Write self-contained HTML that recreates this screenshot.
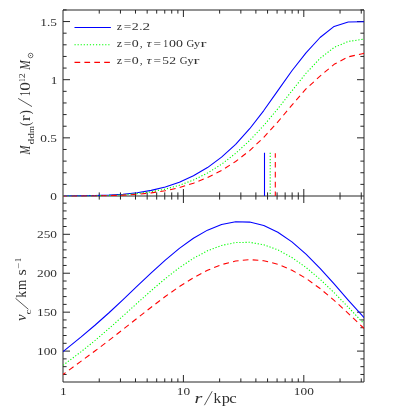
<!DOCTYPE html><html><head><meta charset="utf-8"><style>html,body{margin:0;padding:0;background:#fff;width:407px;height:407px;overflow:hidden;font-family:"Liberation Serif",serif}</style></head><body><svg width="407" height="407" viewBox="0 0 407 407" style="position:absolute;left:0;top:0;will-change:transform">
<rect width="407" height="407" fill="#fff"/>
<path d="M99.24 10.00 L99.24 13.60 M99.24 192.40 L99.24 199.60 M99.24 382.00 L99.24 378.40 M120.45 10.00 L120.45 13.60 M120.45 192.40 L120.45 199.60 M120.45 382.00 L120.45 378.40 M135.49 10.00 L135.49 13.60 M135.49 192.40 L135.49 199.60 M135.49 382.00 L135.49 378.40 M147.16 10.00 L147.16 13.60 M147.16 192.40 L147.16 199.60 M147.16 382.00 L147.16 378.40 M156.69 10.00 L156.69 13.60 M156.69 192.40 L156.69 199.60 M156.69 382.00 L156.69 378.40 M164.75 10.00 L164.75 13.60 M164.75 192.40 L164.75 199.60 M164.75 382.00 L164.75 378.40 M171.73 10.00 L171.73 13.60 M171.73 192.40 L171.73 199.60 M171.73 382.00 L171.73 378.40 M177.89 10.00 L177.89 13.60 M177.89 192.40 L177.89 199.60 M177.89 382.00 L177.89 378.40 M183.40 10.00 L183.40 17.00 M183.40 189.00 L183.40 203.00 M183.40 382.00 L183.40 375.00 M219.64 10.00 L219.64 13.60 M219.64 192.40 L219.64 199.60 M219.64 382.00 L219.64 378.40 M240.85 10.00 L240.85 13.60 M240.85 192.40 L240.85 199.60 M240.85 382.00 L240.85 378.40 M255.89 10.00 L255.89 13.60 M255.89 192.40 L255.89 199.60 M255.89 382.00 L255.89 378.40 M267.56 10.00 L267.56 13.60 M267.56 192.40 L267.56 199.60 M267.56 382.00 L267.56 378.40 M277.09 10.00 L277.09 13.60 M277.09 192.40 L277.09 199.60 M277.09 382.00 L277.09 378.40 M285.15 10.00 L285.15 13.60 M285.15 192.40 L285.15 199.60 M285.15 382.00 L285.15 378.40 M292.13 10.00 L292.13 13.60 M292.13 192.40 L292.13 199.60 M292.13 382.00 L292.13 378.40 M298.29 10.00 L298.29 13.60 M298.29 192.40 L298.29 199.60 M298.29 382.00 L298.29 378.40 M303.80 10.00 L303.80 17.00 M303.80 189.00 L303.80 203.00 M303.80 382.00 L303.80 375.00 M340.04 10.00 L340.04 13.60 M340.04 192.40 L340.04 199.60 M340.04 382.00 L340.04 378.40 M361.25 10.00 L361.25 13.60 M361.25 192.40 L361.25 199.60 M361.25 382.00 L361.25 378.40 M63.00 184.37 L66.60 184.37 M364.00 184.37 L360.40 184.37 M63.00 172.74 L66.60 172.74 M364.00 172.74 L360.40 172.74 M63.00 161.11 L66.60 161.11 M364.00 161.11 L360.40 161.11 M63.00 149.48 L66.60 149.48 M364.00 149.48 L360.40 149.48 M63.00 137.85 L70.00 137.85 M364.00 137.85 L357.00 137.85 M63.00 126.22 L66.60 126.22 M364.00 126.22 L360.40 126.22 M63.00 114.59 L66.60 114.59 M364.00 114.59 L360.40 114.59 M63.00 102.96 L66.60 102.96 M364.00 102.96 L360.40 102.96 M63.00 91.33 L66.60 91.33 M364.00 91.33 L360.40 91.33 M63.00 79.70 L70.00 79.70 M364.00 79.70 L357.00 79.70 M63.00 68.07 L66.60 68.07 M364.00 68.07 L360.40 68.07 M63.00 56.44 L66.60 56.44 M364.00 56.44 L360.40 56.44 M63.00 44.81 L66.60 44.81 M364.00 44.81 L360.40 44.81 M63.00 33.18 L66.60 33.18 M364.00 33.18 L360.40 33.18 M63.00 21.55 L70.00 21.55 M364.00 21.55 L357.00 21.55 M63.00 9.92 L66.60 9.92 M364.00 9.92 L360.40 9.92 M63.00 374.46 L66.60 374.46 M364.00 374.46 L360.40 374.46 M63.00 366.67 L66.60 366.67 M364.00 366.67 L360.40 366.67 M63.00 358.89 L66.60 358.89 M364.00 358.89 L360.40 358.89 M63.00 351.10 L70.00 351.10 M364.00 351.10 L357.00 351.10 M63.00 343.31 L66.60 343.31 M364.00 343.31 L360.40 343.31 M63.00 335.53 L66.60 335.53 M364.00 335.53 L360.40 335.53 M63.00 327.74 L66.60 327.74 M364.00 327.74 L360.40 327.74 M63.00 319.95 L66.60 319.95 M364.00 319.95 L360.40 319.95 M63.00 312.17 L70.00 312.17 M364.00 312.17 L357.00 312.17 M63.00 304.38 L66.60 304.38 M364.00 304.38 L360.40 304.38 M63.00 296.59 L66.60 296.59 M364.00 296.59 L360.40 296.59 M63.00 288.80 L66.60 288.80 M364.00 288.80 L360.40 288.80 M63.00 281.02 L66.60 281.02 M364.00 281.02 L360.40 281.02 M63.00 273.23 L70.00 273.23 M364.00 273.23 L357.00 273.23 M63.00 265.44 L66.60 265.44 M364.00 265.44 L360.40 265.44 M63.00 257.66 L66.60 257.66 M364.00 257.66 L360.40 257.66 M63.00 249.87 L66.60 249.87 M364.00 249.87 L360.40 249.87 M63.00 242.08 L66.60 242.08 M364.00 242.08 L360.40 242.08 M63.00 234.30 L70.00 234.30 M364.00 234.30 L357.00 234.30 M63.00 226.51 L66.60 226.51 M364.00 226.51 L360.40 226.51 M63.00 218.72 L66.60 218.72 M364.00 218.72 L360.40 218.72 M63.00 210.93 L66.60 210.93 M364.00 210.93 L360.40 210.93 M63.00 203.15 L66.60 203.15 M364.00 203.15 L360.40 203.15" stroke="#262626" stroke-width="1.00" fill="none"/>
<path d="M63.00 10.00H364.00V382.00H63.00Z M63.00 196.00H364.00" stroke="#262626" stroke-width="1.00" fill="none"/>
<clipPath id="c1"><rect x="63.00" y="10.00" width="301.00" height="186.60"/></clipPath>
<clipPath id="c2"><rect x="63.00" y="196.00" width="301.00" height="186.00"/></clipPath>
<g clip-path="url(#c1)" fill="none" stroke-linejoin="round" stroke-width="1.08">
<path d="M63.00 196.06 L80.87 195.88 L94.94 195.59 L109.01 195.08 L123.08 194.18 L137.15 192.71 L151.22 190.39 L165.29 186.97 L179.36 182.19 L193.43 175.80 L207.50 167.56 L221.57 157.18 L235.64 144.30 L249.71 128.72 L263.78 110.56 L277.85 90.68 L291.92 70.78 L305.99 52.85 L320.06 37.49 L334.13 26.41 L348.20 21.95 L362.27 21.82 L364.00 21.80" stroke="#0000ff"/>
<path d="M63.00 196.16 L80.87 196.03 L94.94 195.81 L109.01 195.41 L123.08 194.72 L137.15 193.59 L151.22 191.81 L165.29 189.14 L179.36 185.30 L193.43 180.03 L207.50 173.07 L221.57 164.23 L235.64 153.37 L249.71 140.43 L263.78 125.46 L277.85 108.72 L291.92 90.85 L305.99 73.26 L320.06 58.39 L334.13 47.41 L348.20 41.45 L362.27 39.40 L364.00 39.15" stroke="#00ff00" stroke-dasharray="1.2 1.87"/>
<path d="M63.00 196.26 L80.87 196.11 L94.94 195.93 L109.01 195.63 L123.08 195.13 L137.15 194.28 L151.22 192.89 L165.29 190.72 L179.36 187.57 L193.43 183.23 L207.50 177.56 L221.57 170.40 L235.64 161.51 L249.71 150.58 L263.78 137.34 L277.85 121.89 L291.92 105.12 L305.99 88.93 L320.06 76.11 L334.13 64.31 L348.20 56.85 L362.27 53.70 L364.00 53.35" stroke="#ff0000" stroke-dasharray="5.7 4.2" stroke-dashoffset="1.5"/>
<path d="M264.5 152.8V196" stroke="#0000ff"/>
<path d="M270.2 152.8V196" stroke="#00ff00" stroke-dasharray="1.2 1.87"/>
<path d="M275.3 153.2V196" stroke="#ff0000" stroke-dasharray="5.7 4.2" stroke-dashoffset="1.2"/>
</g>
<g clip-path="url(#c2)" fill="none" stroke-linejoin="round" stroke-width="1.08">
<path d="M63.00 351.57 L80.87 337.16 L94.94 325.27 L109.01 312.74 L123.08 299.64 L137.15 286.23 L151.22 272.89 L165.29 260.11 L179.36 248.38 L193.43 238.23 L207.50 230.14 L221.57 224.54 L235.64 221.79 L249.71 222.10 L263.78 225.60 L277.85 232.25 L291.92 241.86 L305.99 254.06 L320.06 268.34 L334.13 283.98 L348.20 300.13 L362.27 315.72 L364.00 317.54" stroke="#0000ff"/>
<path d="M63.00 365.32 L80.87 351.92 L94.94 340.56 L109.01 328.51 L123.08 315.94 L137.15 303.18 L151.22 290.60 L165.29 278.63 L179.36 267.72 L193.43 258.30 L207.50 250.76 L221.57 245.43 L235.64 242.56 L249.71 242.31 L263.78 244.76 L277.85 249.88 L291.92 257.52 L305.99 267.44 L320.06 279.30 L334.13 292.69 L348.20 307.10 L362.27 321.99 L364.00 323.82" stroke="#00ff00" stroke-dasharray="1.2 1.87"/>
<path d="M63.00 374.51 L80.87 361.39 L94.94 351.00 L109.01 340.34 L123.08 329.38 L137.15 318.26 L151.22 307.21 L165.29 296.53 L179.36 286.57 L193.43 277.69 L207.50 270.26 L221.57 264.60 L235.64 260.98 L249.71 259.64 L263.78 260.71 L277.85 264.24 L291.92 270.17 L305.99 278.36 L320.06 288.54 L334.13 300.34 L348.20 313.28 L362.27 326.76 L364.00 328.42" stroke="#ff0000" stroke-dasharray="5.7 4.2" stroke-dashoffset="2.5"/>
</g>
<g fill="none" stroke-linejoin="round" stroke-width="1.08">
<path d="M74.5 27.5H110.9" stroke="#0000ff"/>
<path d="M74.5 44.7H110.9" stroke="#00ff00" stroke-dasharray="1.2 1.87"/>
<path d="M74.5 62.4H110.9" stroke="#ff0000" stroke-dasharray="5.7 4.2"/>
</g>
<g font-family="'Liberation Serif', serif" fill="#303030">
<text transform="translate(40.36 25.55) scale(1.190 1)" font-size="11.20px" letter-spacing="0.00">1.5</text>
<text transform="translate(50.64 83.70) scale(1.190 1)" font-size="11.20px" letter-spacing="0.00">1</text>
<text transform="translate(40.36 141.85) scale(1.190 1)" font-size="11.20px" letter-spacing="0.00">0.5</text>
<text transform="translate(50.34 200.00) scale(1.190 1)" font-size="11.20px" letter-spacing="0.00">0</text>
<text transform="translate(37.02 238.30) scale(1.190 1)" font-size="11.20px" letter-spacing="0.00">250</text>
<text transform="translate(37.02 277.23) scale(1.190 1)" font-size="11.20px" letter-spacing="0.00">200</text>
<text transform="translate(37.02 316.17) scale(1.190 1)" font-size="11.20px" letter-spacing="0.00">150</text>
<text transform="translate(37.02 355.10) scale(1.190 1)" font-size="11.20px" letter-spacing="0.00">100</text>
<text transform="translate(60.08 395.20) scale(1.190 1)" font-size="11.20px" letter-spacing="0.00">1</text>
<text transform="translate(176.80 395.20) scale(1.190 1)" font-size="11.20px" letter-spacing="0.00">10</text>
<text transform="translate(293.87 395.20) scale(1.190 1)" font-size="11.20px" letter-spacing="0.00">100</text>
<text transform="translate(116.78 30.30) scale(1.078 1)" font-size="11.20px">z</text>
<text transform="translate(123.74 30.30) scale(1.190 1)" font-size="11.20px">=</text>
<text transform="translate(131.79 30.30) scale(1.247 1)" font-size="11.20px">2</text>
<text transform="translate(139.57 30.30) scale(0.982 1)" font-size="11.20px">.</text>
<text transform="translate(142.53 30.30) scale(1.359 1)" font-size="11.20px">2</text>
<text transform="translate(116.78 46.80) scale(1.078 1)" font-size="11.20px">z</text>
<text transform="translate(123.74 46.80) scale(1.190 1)" font-size="11.20px">=</text>
<text transform="translate(131.87 46.80) scale(1.243 1)" font-size="11.20px">0</text>
<text transform="translate(139.77 46.80) scale(1.019 1)" font-size="11.20px">,</text>
<text transform="translate(146.59 46.80) scale(1.243 1)" font-size="11.20px" font-style="italic">τ</text>
<text transform="translate(153.54 46.80) scale(1.190 1)" font-size="11.20px">=</text>
<text transform="translate(163.15 46.80) scale(0.862 1)" font-size="11.20px">1</text>
<text transform="translate(168.97 46.80) scale(1.243 1)" font-size="11.20px">0</text>
<text transform="translate(175.97 46.80) scale(1.243 1)" font-size="11.20px">0</text>
<text transform="translate(186.46 46.80) scale(0.962 1)" font-size="11.20px">G</text>
<text transform="translate(194.05 46.80) scale(1.089 1)" font-size="11.20px">y</text>
<text transform="translate(200.54 46.80) scale(1.600 1)" font-size="11.20px">r</text>
<text transform="translate(116.78 63.60) scale(1.078 1)" font-size="11.20px">z</text>
<text transform="translate(123.74 63.60) scale(1.190 1)" font-size="11.20px">=</text>
<text transform="translate(131.87 63.60) scale(1.243 1)" font-size="11.20px">0</text>
<text transform="translate(139.77 63.60) scale(1.019 1)" font-size="11.20px">,</text>
<text transform="translate(146.59 63.60) scale(1.243 1)" font-size="11.20px" font-style="italic">τ</text>
<text transform="translate(153.54 63.60) scale(1.190 1)" font-size="11.20px">=</text>
<text transform="translate(162.22 63.60) scale(1.197 1)" font-size="11.20px">5</text>
<text transform="translate(169.30 63.60) scale(1.225 1)" font-size="11.20px">2</text>
<text transform="translate(179.76 63.60) scale(0.962 1)" font-size="11.20px">G</text>
<text transform="translate(187.45 63.60) scale(1.089 1)" font-size="11.20px">y</text>
<text transform="translate(193.54 63.60) scale(1.600 1)" font-size="11.20px">r</text>
<text transform="translate(194.48 402.80) scale(1.443 1)" font-size="14.00px" font-style="italic">r</text>
<path d="M204.4 405.2L212.2 391.2" stroke="#303030" stroke-width="0.8" fill="none"/>
<text transform="translate(213.41 402.80) scale(1.099 1)" font-size="14.00px">k</text>
<text transform="translate(221.64 402.80) scale(1.172 1)" font-size="14.00px">p</text>
<text transform="translate(229.36 402.80) scale(1.200 1)" font-size="14.00px">c</text>
<g transform="translate(29.8 155) rotate(-90)">
<text transform="translate(0.62 0.00) scale(0.762 1)" font-size="14.00px" font-style="italic">M</text>
<text transform="translate(10.38 3.70) scale(1.308 1)" font-size="8.80px">d</text>
<text transform="translate(16.18 3.70) scale(1.308 1)" font-size="8.80px">d</text>
<text transform="translate(22.12 3.70) scale(0.997 1)" font-size="8.80px">m</text>
<text transform="translate(29.04 0.00) scale(0.918 1)" font-size="14.00px">(</text>
<text transform="translate(34.06 0.00) scale(1.198 1)" font-size="14.00px">r</text>
<text transform="translate(40.57 0.00) scale(0.946 1)" font-size="14.00px">)</text>
<path d="M48.4 2.2L56.6 -11.7" stroke="#303030" stroke-width="0.8" fill="none"/>
<text transform="translate(59.05 0.00) scale(0.690 1)" font-size="14.00px">1</text>
<text transform="translate(64.34 0.00) scale(1.247 1)" font-size="14.00px">0</text>
<text transform="translate(73.30 -5.20) scale(0.775 1)" font-size="8.80px">1</text>
<text transform="translate(76.86 -5.20) scale(1.134 1)" font-size="8.80px">2</text>
<text transform="translate(85.33 0.00) scale(0.810 1)" font-size="14.00px" font-style="italic">M</text>
<circle cx="99.5" cy="0.8" r="2.3" stroke="#303030" stroke-width="0.7" fill="none"/><circle cx="99.5" cy="0.8" r="0.55" fill="#303030"/>
</g>
<g transform="translate(26.2 321.5) rotate(-90)">
<text transform="translate(0.40 0.00) scale(1.063 1)" font-size="14.00px" font-style="italic">v</text>
<text transform="translate(7.07 4.30) scale(1.273 1)" font-size="8.80px">c</text>
<path d="M12.2 2.2L23.2 -10.7" stroke="#303030" stroke-width="0.8" fill="none"/>
<text transform="translate(23.74 0.00) scale(0.980 1)" font-size="14.00px">k</text>
<text transform="translate(31.62 0.00) scale(0.944 1)" font-size="14.00px">m</text>
<text transform="translate(45.94 0.00) scale(1.145 1)" font-size="14.00px">s</text>
<text transform="translate(52.96 -5.20) scale(1.221 1)" font-size="8.80px">−</text>
<text transform="translate(59.50 -5.20) scale(0.904 1)" font-size="8.80px">1</text>
</g>
</g>
</svg></body></html>
